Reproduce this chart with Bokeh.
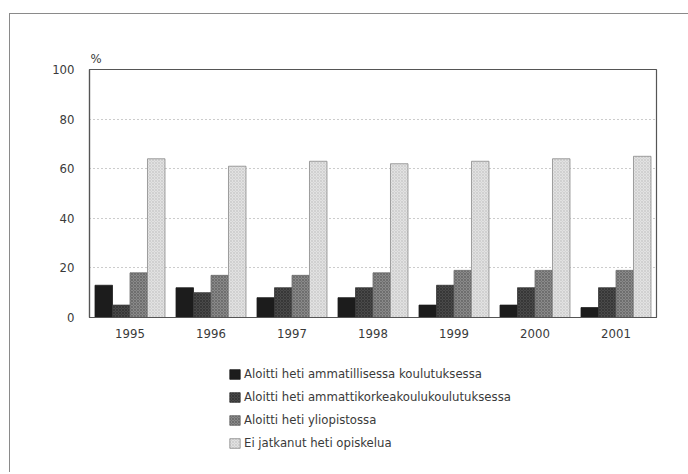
from bokeh.plotting import figure
from bokeh.layouts import column
from bokeh.models import Legend, LegendItem, FixedTicker
from bokeh.transform import dodge
from bokeh.embed import file_html
from bokeh.resources import INLINE

years = ["1995", "1996", "1997", "1998", "1999", "2000", "2001"]
ammatillinen = [13, 12, 8, 8, 5, 5, 4]
amk = [5, 10, 12, 12, 13, 12, 12]
yliopisto = [18, 17, 17, 18, 19, 19, 19]
ei_jatkanut = [64, 61, 63, 62, 63, 64, 65]
series_names = [
    "Aloitti heti ammatillisessa koulutuksessa",
    "Aloitti heti ammattikorkeakoulukoulutuksessa",
    "Aloitti heti yliopistossa",
    "Ei jatkanut heti opiskelua",
]

FONT = "'DejaVu Sans Condensed', 'Liberation Sans Narrow', 'Roboto', sans-serif"
FS = "13px"
TXT = "#3a3a3a"

p = figure(x_range=years, y_range=(0, 100), width=678, height=338,
           output_backend="svg", toolbar_location=None,
           min_border_left=79, min_border_right=32, min_border_top=55,
           min_border_bottom=35)

data = dict(year=years, a=ammatillinen, b=amk, c=yliopisto, d=ei_jatkanut)
w = 0.216
styles = [
    dict(col="a", off=-1.5 * w, fill="#1c1c1c", hatch=None, hcol=None, line="#1c1c1c"),
    dict(col="b", off=-0.5 * w, fill="#4a4a4a", hatch="x", hcol="#2a2a2a", line="#3a3a3a"),
    dict(col="c", off=0.5 * w, fill="#8a8a8a", hatch="x", hcol="#5a5a5a", line="#6a6a6a"),
    dict(col="d", off=1.5 * w, fill="#e2e2e2", hatch="x", hcol="#c4c4c4", line="#8a8a8a"),
]

def style_kw(s):
    kw = dict(fill_color=s["fill"], line_color=s["line"], line_width=0.8)
    if s["hatch"]:
        kw.update(hatch_pattern=s["hatch"], hatch_color=s["hcol"], hatch_scale=3,
                  hatch_weight=0.6)
    return kw

for s in styles:
    p.vbar(x=dodge("year", s["off"], range=p.x_range), top=s["col"], width=w,
           source=data, **style_kw(s))

p.title.text = "%"
p.title.align = "left"
p.title.text_font = FONT
p.title.text_font_size = FS
p.title.text_font_style = "normal"
p.title.text_color = TXT
p.title.offset = 1
p.title.standoff = 8

p.outline_line_color = "#555555"
p.outline_line_width = 1.2
p.xgrid.grid_line_color = None
p.ygrid.grid_line_color = "#999999"
p.ygrid.grid_line_dash = "1 3"
p.ygrid.grid_line_width = 1

p.yaxis.ticker = FixedTicker(ticks=[0, 20, 40, 60, 80, 100])
for ax in (p.xaxis[0], p.yaxis[0]):
    ax.axis_line_color = "#555555"
    ax.axis_line_width = 1.2
    ax.major_tick_line_color = None
    ax.minor_tick_line_color = None
    ax.major_label_text_font = FONT
    ax.major_label_text_font_size = FS
    ax.major_label_text_color = TXT
p.yaxis.major_label_standoff = 9
p.xaxis.major_label_standoff = 5

# legend panel: proxy bars from the same data, kept outside its visible y range
p2 = figure(width=678, height=120, output_backend="svg", toolbar_location=None,
            x_range=years, y_range=(1000, 1001), min_border=0)
p2.axis.visible = False
p2.grid.visible = False
p2.outline_line_color = None
leg_renderers = [p2.vbar(x=dodge("year", s["off"], range=p2.x_range), top=s["col"],
                         width=w, source=data, **style_kw(s))
                 for s in styles]
legend = Legend(items=[LegendItem(label=n, renderers=[r])
                       for n, r in zip(series_names, leg_renderers)],
                location=(139, 22), orientation="vertical",
                glyph_width=13, glyph_height=12, label_height=15,
                spacing=8, padding=0, margin=0, label_standoff=3,
                label_text_font=FONT, label_text_font_size=FS,
                label_text_color=TXT, border_line_color=None,
                background_fill_alpha=0)
p2.add_layout(legend, "center")

layout = column(p, p2, spacing=0)
layout.styles = {"margin-left": "9px", "margin-top": "13px",
                 "border-top": "1px solid #8a8a8a",
                 "border-left": "1px solid #8a8a8a"}

open("out.html", "w").write(file_html(layout, INLINE))
